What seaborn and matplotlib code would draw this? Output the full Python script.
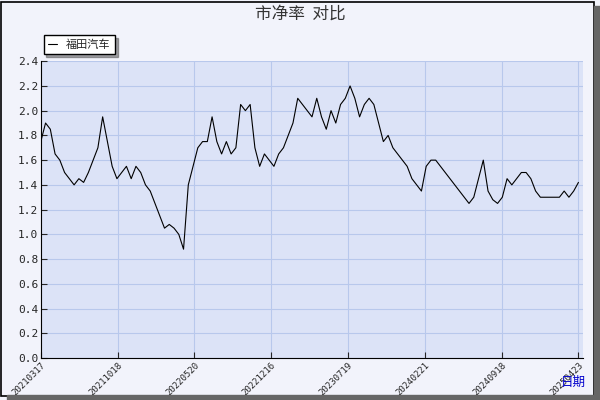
import matplotlib
matplotlib.use("Agg")
import matplotlib.pyplot as plt
import seaborn as sns
import pandas as pd
import numpy as np

values = [1.75,1.9,1.85,1.65,1.6,1.5,1.45,1.4,1.45,1.42,1.5,1.6,1.7,1.95,1.75,1.55,1.45,1.5,1.55,1.45,
          1.55,1.5,1.4,1.35,1.25,1.15,1.05,1.08,1.05,1.0,0.88,1.4,1.55,1.7,1.75,1.75,1.95,1.75,1.65,1.75,
          1.65,1.7,2.05,2.0,2.05,1.7,1.55,1.65,1.6,1.55,1.65,1.7,1.8,1.9,2.1,2.05,2.0,1.95,2.1,1.95,
          1.85,2.0,1.9,2.05,2.1,2.2,2.1,1.95,2.05,2.1,2.05,1.9,1.75,1.8,1.7,1.65,1.6,1.55,1.45,1.4,
          1.35,1.55,1.6,1.6,1.55,1.5,1.45,1.4,1.35,1.3,1.25,1.3,1.45,1.6,1.35,1.28,1.25,1.3,1.45,1.4,
          1.45,1.5,1.5,1.45,1.35,1.3,1.3,1.3,1.3,1.3,1.35,1.3,1.35,1.42]
tick_labels = ["20210317","20211018","20220520","20221216","20230719","20240221","20240918","20250423"]
series_name = "福田汽车"

df = pd.DataFrame({"i": np.arange(len(values)), "v": values, "s": series_name})

sns.set_style("white")
plt.rcParams['font.family'] = ['Noto Sans CJK SC', 'DejaVu Sans']
fig = plt.figure(figsize=(6, 4), dpi=100, facecolor="#f2f3fb")
ax = fig.add_axes([0.068, 0.105, 0.904, 0.742])
ax.set_facecolor("#dce3f7")
sns.lineplot(data=df, x="i", y="v", hue="s", palette=["black"], linewidth=0.8, ax=ax)
n = len(values) - 1
ticks = [n * k / 7 for k in range(8)]
ax.set_xticks(ticks)
ax.set_xticklabels(tick_labels, rotation=45, ha="right", va="top", rotation_mode="anchor",
                   fontsize=6.5, family="DejaVu Sans Mono")
ax.set_xlim(0, n + 1)
ax.set_ylim(0, 2.4)
ax.set_yticks(np.arange(0, 2.41, 0.2))
ax.set_yticklabels([f"{t:.1f}" for t in np.arange(0, 2.41, 0.2)], fontsize=8, family="DejaVu Sans Mono")
ax.grid(True, color="#b8c8ec", linewidth=0.8)
for s in ["top", "right"]:
    ax.spines[s].set_visible(False)
ax.spines["left"].set_color("black")
ax.spines["bottom"].set_color("black")
ax.tick_params(direction="in", length=4, left=True, bottom=True, pad=2)
ax.set_xlabel("")
ax.set_ylabel("")
leg = ax.legend(loc="lower left", bbox_to_anchor=(-0.005, 1.005), frameon=True, fancybox=False,
                shadow=True, fontsize=8, handlelength=0.8, borderpad=0.4)
leg.get_frame().set_edgecolor("black")
leg.get_frame().set_facecolor("white")
fig.text(0.5, 0.965, "市净率  对比", ha="center", va="center", fontsize=12, color="#333333")
fig.text(0.955, 0.045, "日期", ha="center", va="center", fontsize=9, color="#0000cc")
border = plt.Rectangle((0.002, 0.01), 0.988, 0.985, transform=fig.transFigure, fill=False,
                       edgecolor="black", linewidth=1.2)
fig.patches.append(border)
shadow = plt.Rectangle((0.012, 0.0), 0.988, 0.012, transform=fig.transFigure, color="#666666")
fig.patches.append(shadow)
shadow2 = plt.Rectangle((0.99, 0.0), 0.01, 0.985, transform=fig.transFigure, color="#666666")
fig.patches.append(shadow2)
fig.savefig("out.png", dpi=100, facecolor=fig.get_facecolor())
